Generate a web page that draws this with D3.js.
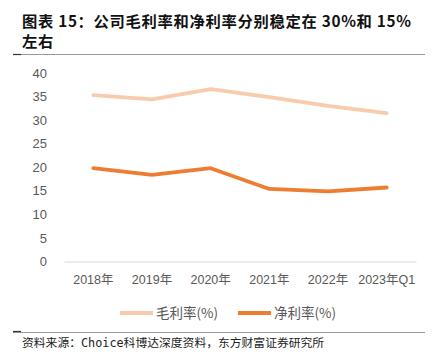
<!DOCTYPE html>
<html><head><meta charset="utf-8">
<script src="https://cdn.jsdelivr.net/npm/d3@7"></script>
<style>body{margin:0;background:#fff}svg{display:block}</style>
</head><body>
<script>
const categories = ["2018年","2019年","2020年","2021年","2022年","2023年Q1"];
const grossMargin = [35.3, 34.4, 36.6, 34.9, 33.0, 31.5];
const netMargin = [19.8, 18.4, 19.8, 15.4, 14.9, 15.7];
const yTicks = [0,5,10,15,20,25,30,35,40];
const seriesNames = ["毛利率(%)","净利率(%)"];

const W=437,H=359;
const svg=d3.select("body").append("svg").attr("width",W).attr("height",H);
const cjk="'Noto Sans CJK SC','Noto Sans',sans-serif";

svg.append("text").attr("x",22).attr("y",26.5).attr("font-family",cjk).attr("font-size",15.3).attr("letter-spacing",0.7).attr("font-weight","bold").attr("fill","#111")
  .text("图表 15：公司毛利率和净利率分别稳定在 30%和 15%");
svg.append("text").attr("x",22).attr("y",46.5).attr("font-family",cjk).attr("font-size",15.3).attr("letter-spacing",0.7).attr("font-weight","bold").attr("fill","#111")
  .text("左右");
svg.append("line").attr("x1",13).attr("x2",425).attr("y1",54.5).attr("y2",54.5).attr("stroke","#999").attr("stroke-width",1);
svg.append("line").attr("x1",13).attr("x2",21).attr("y1",54.5).attr("y2",54.5).attr("stroke","#333").attr("stroke-width",1.2);

const x=d3.scaleBand().domain(categories).range([64,416]);
const y=d3.scaleLinear().domain([0,40]).range([261.5,73]);

const ya=svg.append("g").attr("transform","translate(47,0)")
  .call(d3.axisLeft(y).tickValues(yTicks).tickSize(0).tickPadding(0));
ya.select(".domain").remove();
ya.selectAll("text").attr("font-family","'Liberation Sans',Arial,sans-serif").attr("font-size",13).attr("fill","#595959");

const xa=svg.append("g").attr("transform","translate(0,261.5)")
  .call(d3.axisBottom(x).tickSize(0).tickPadding(14));
xa.select(".domain").attr("stroke","#d9d9d9");
xa.selectAll("text").attr("font-family","'Liberation Sans',"+cjk).attr("font-size",12.5).attr("fill","#595959");

const line=d3.line().x((d,i)=>x(categories[i])+x.bandwidth()/2).y(d=>y(d));
const colors=["#F8CBAD","#ED7D31"];
[grossMargin,netMargin].forEach((s,k)=>{
  svg.append("path").datum(s).attr("d",line).attr("fill","none").attr("stroke",colors[k]).attr("stroke-width",3.8).attr("stroke-linejoin","round").attr("stroke-linecap","round");
});

const lg=[{x:120,t:seriesNames[0],c:colors[0]},{x:238,t:seriesNames[1],c:colors[1]}];
lg.forEach(l=>{
  svg.append("line").attr("x1",l.x).attr("x2",l.x+33).attr("y1",313).attr("y2",313).attr("stroke",l.c).attr("stroke-width",4);
  svg.append("text").attr("x",l.x+36).attr("y",318).attr("font-family",cjk).attr("font-size",13.5).attr("fill","#595959").text(l.t);
});

svg.append("line").attr("x1",13).attr("x2",425).attr("y1",332.5).attr("y2",332.5).attr("stroke","#999").attr("stroke-width",1);
svg.append("line").attr("x1",13).attr("x2",21).attr("y1",331.5).attr("y2",331.5).attr("stroke","#333").attr("stroke-width",1.2);
svg.append("text").attr("x",22).attr("y",347).attr("font-family","'DejaVu Sans Mono','Noto Sans CJK SC',monospace").attr("font-size",11.8).attr("fill","#222")
  .text("资料来源：Choice科博达深度资料，东方财富证券研究所");
</script>
</body></html>
